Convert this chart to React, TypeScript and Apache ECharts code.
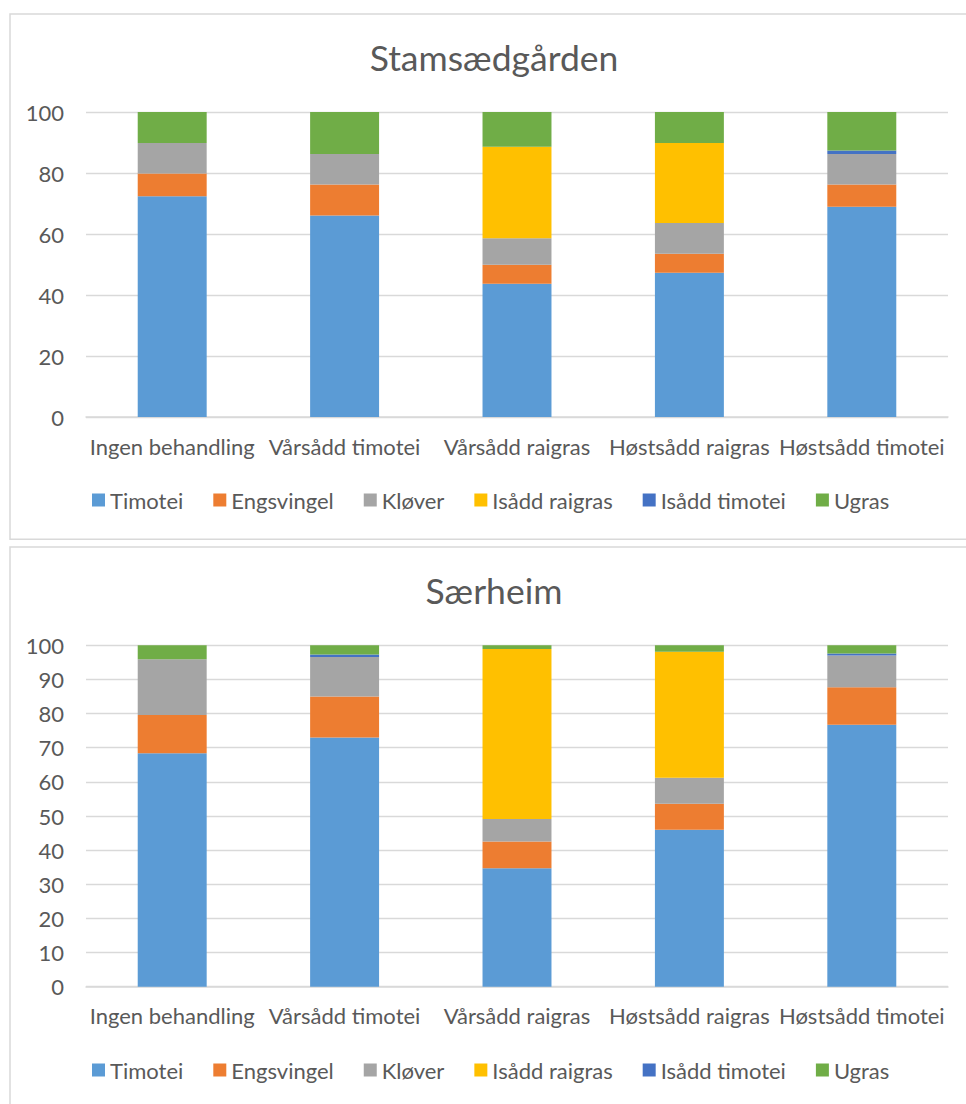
import React, { useEffect, useRef } from "react";
import * as echarts from "echarts";

const categories = [
  "Ingen behandling",
  "Vårsådd timotei",
  "Vårsådd raigras",
  "Høstsådd raigras",
  "Høstsådd timotei",
];
const seriesNames = ["Timotei", "Engsvingel", "Kløver", "Isådd raigras", "Isådd timotei", "Ugras"];
const seriesColors = ["#5B9BD5", "#ED7D31", "#A5A5A5", "#FFC000", "#4472C4", "#70AD47"];

// Stamsædgården
const stamTimotei = [72.4, 66.1, 43.7, 47.3, 68.9];
const stamEngsvingel = [7.4, 10.1, 6.2, 6.2, 7.3];
const stamKlover = [10.0, 10.0, 8.7, 10.1, 10.0];
const stamIsaddRaigras = [0, 0, 30.0, 26.2, 0];
const stamIsaddTimotei = [0, 0, 0, 0, 1.2];
const stamUgras = [10.2, 13.8, 11.4, 10.2, 12.6];

// Særheim
const saerTimotei = [68.4, 73.0, 34.7, 46.0, 76.7];
const saerEngsvingel = [11.2, 12.0, 7.8, 7.6, 11.0];
const saerKlover = [16.3, 11.6, 6.6, 7.6, 9.3];
const saerIsaddRaigras = [0, 0, 49.8, 36.9, 0];
const saerIsaddTimotei = [0, 0.7, 0, 0, 0.6];
const saerUgras = [4.1, 2.7, 1.1, 1.9, 2.4];

const titles = ["Stamsædgården", "Særheim"];
const yMax = [100, 100];
const yInterval = [20, 10];

const stamData = [stamTimotei, stamEngsvingel, stamKlover, stamIsaddRaigras, stamIsaddTimotei, stamUgras];
const saerData = [saerTimotei, saerEngsvingel, saerKlover, saerIsaddRaigras, saerIsaddTimotei, saerUgras];

const FONT = "Lato";
const TXT = "#595959";
const GRID_LINE = "#D9D9D9";

export default function App() {
  const ref = useRef<HTMLDivElement>(null);

  useEffect(() => {
    document.body.style.margin = "0";
    if (!ref.current) return;
    const chart = echarts.init(ref.current, undefined, { renderer: "svg" });

    const grids = [
      { left: 86, width: 862, top: 112, height: 305 },
      { left: 86, width: 862, top: 645.3, height: 341.4 },
    ];

    const xAxes = grids.map((_, i) => ({
      type: "category",
      gridIndex: i,
      data: categories,
      axisLine: { lineStyle: { color: GRID_LINE, width: 1.5 } },
      axisTick: { show: false },
      axisLabel: { color: TXT, fontFamily: FONT, fontSize: 22, margin: 18, interval: 0 },
    }));
    const yAxes = grids.map((_, i) => ({
      type: "value",
      gridIndex: i,
      min: 0,
      max: yMax[i],
      interval: yInterval[i],
      axisLine: { show: false },
      axisTick: { show: false },
      splitLine: { lineStyle: { color: GRID_LINE, width: 1.3 } },
      axisLabel: { color: TXT, fontFamily: FONT, fontSize: 22, margin: 22 },
    }));

    const series: any[] = [];
    [stamData, saerData].forEach((set, gi) => {
      set.forEach((vals, si) => {
        series.push({
          type: "bar",
          name: seriesNames[si],
          xAxisIndex: gi,
          yAxisIndex: gi,
          stack: "s" + gi,
          barWidth: "40%",
          itemStyle: { color: seriesColors[si] },
          data: vals,
        });
      });
    });

    const legendBase = {
      data: seriesNames,
      left: 87,
      orient: "horizontal",
      itemWidth: 13,
      itemHeight: 13,
      itemGap: 30,
      icon: "rect",
      textStyle: { color: TXT, fontFamily: FONT, fontSize: 22 },
    };

    chart.setOption({
      animation: false,
      color: seriesColors,
      title: titles.map((t, i) => ({
        text: t,
        left: 489,
        textAlign: "center",
        top: i === 0 ? 34 : 567,
        textStyle: { color: TXT, fontFamily: FONT, fontSize: 35.5, fontWeight: "normal" },
      })),
      legend: [
        { ...legendBase, top: 484 },
        { ...legendBase, top: 1054 },
      ],
      grid: grids,
      xAxis: xAxes,
      yAxis: yAxes,
      series,
      graphic: [
        {
          type: "rect",
          shape: { x: 10, y: 14, width: 980, height: 525.3 },
          style: { fill: "none", stroke: GRID_LINE, lineWidth: 1.5 },
          silent: true,
          z: -1,
        },
        {
          type: "rect",
          shape: { x: 10, y: 547, width: 980, height: 600 },
          style: { fill: "none", stroke: GRID_LINE, lineWidth: 1.5 },
          silent: true,
          z: -1,
        },
      ],
    });

    return () => chart.dispose();
  }, []);

  return (
    <div
      ref={ref}
      style={{ position: "absolute", left: 0, top: 0, width: 966, height: 1104, background: "#fff" }}
    />
  );
}
